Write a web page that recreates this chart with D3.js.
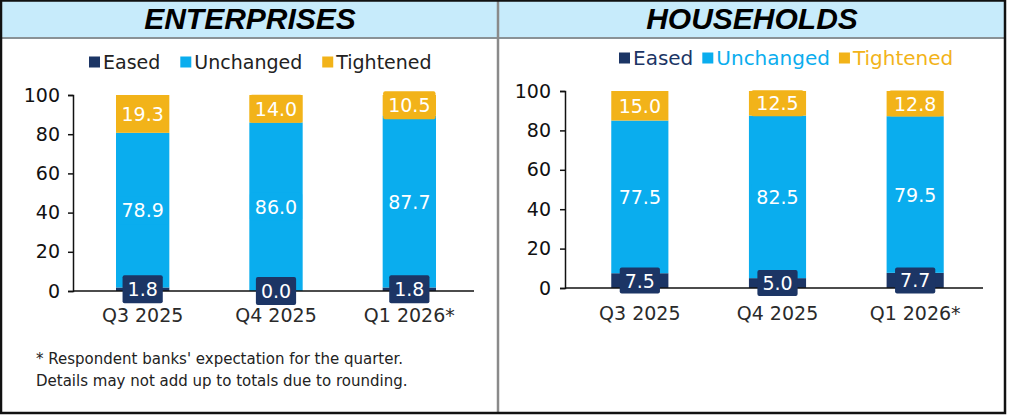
<!DOCTYPE html>
<html>
<head>
<meta charset="utf-8">
<script src="https://cdn.jsdelivr.net/npm/d3@7"></script>
<style>
  body { margin: 0; background: #fff; }
  svg { display: block; }
  text { font-family: "DejaVu Sans", sans-serif; }
</style>
</head>
<body>
<svg width="1009" height="416"></svg>
<script>
// data (percent of respondent banks)
var quarters = ["Q3 2025", "Q4 2025", "Q1 2026*"];
var seriesNames = ["Eased", "Unchanged", "Tightened"];
var entEased = [1.8, 0.0, 1.8];
var entUnchanged = [78.9, 86.0, 87.7];
var entTightened = [19.3, 14.0, 10.5];
var hhEased = [7.5, 5.0, 7.7];
var hhUnchanged = [77.5, 82.5, 79.5];
var hhTightened = [15.0, 12.5, 12.8];
var yTicks = [0, 20, 40, 60, 80, 100];
var footnote = ["* Respondent banks' expectation for the quarter.",
                "Details may not add up to totals due to rounding."];

var colors = { Eased: "#1c3565", Unchanged: "#0aadee", Tightened: "#f2b319" };

var svg = d3.select("svg");

// frame and header band
svg.append("rect").attr("x", 0).attr("y", 0).attr("width", 1005).attr("height", 38)
    .style("fill", "#c7ebfb");
svg.append("line").attr("x1", 0).attr("x2", 1005).attr("y1", 38).attr("y2", 38)
    .style("stroke", "#8a9296").style("stroke-width", 2);
svg.append("line").attr("x1", 498).attr("x2", 498).attr("y1", 0).attr("y2", 413)
    .style("stroke", "#8a8a8a").style("stroke-width", 2.5);
svg.append("rect").attr("x", 1).attr("y", 0.5).attr("width", 1004).attr("height", 412.5)
    .style("fill", "none").style("stroke", "#111").style("stroke-width", 2.5);

function buildRows(eased, unchanged, tightened) {
    return quarters.map(function (q, i) {
        return { quarter: q, Eased: eased[i], Unchanged: unchanged[i], Tightened: tightened[i] };
    });
}

function drawPanel(cfg) {
    var g = svg.append("g");
    var rows = buildRows(cfg.eased, cfg.unchanged, cfg.tightened);

    g.append("text")
        .attr("x", cfg.cx).attr("y", cfg.titleY)
        .attr("text-anchor", "middle")
        .style("font-family", "'Liberation Sans', Arial, sans-serif")
        .style("font-weight", "bold").style("font-style", "italic")
        .style("font-size", "30px").style("fill", "#000")
        .text(cfg.title);

    var x = d3.scaleBand().domain(quarters).range(cfg.xRange)
        .paddingInner(cfg.padInner).paddingOuter(cfg.padInner / 2);
    var y = d3.scaleLinear().domain([0, 100]).range(cfg.yRange);

    var stack = d3.stack().keys(seriesNames)(rows);

    // bars
    g.selectAll("g.layer").data(stack).enter().append("g")
        .attr("class", "layer")
        .style("fill", function (d) { return colors[d.key]; })
        .selectAll("rect").data(function (d) { return d; }).enter().append("rect")
        .attr("x", function (d) { return x(d.data.quarter); })
        .attr("width", x.bandwidth())
        .attr("y", function (d) { return y(d[1]); })
        .attr("height", function (d) { return y(d[0]) - y(d[1]); });

    // y axis
    var yAxis = g.append("g")
        .attr("transform", "translate(" + cfg.axisX + ",0)")
        .call(d3.axisLeft(y).tickValues(yTicks).tickSize(5).tickPadding(cfg.tickPad));
    yAxis.select(".domain").style("stroke", "#111").style("stroke-width", 1.5);
    yAxis.selectAll(".tick line").style("stroke", "#111").style("stroke-width", 1.5);
    yAxis.selectAll(".tick text")
        .style("font-family", "'DejaVu Sans', sans-serif")
        .style("font-size", "19px").style("fill", "#111");

    // x axis line at zero
    g.append("line")
        .attr("x1", cfg.axisX).attr("x2", cfg.xAxisEnd)
        .attr("y1", y(0)).attr("y2", y(0))
        .style("stroke", "#111").style("stroke-width", 1.5);

    // category labels
    g.selectAll("text.cat").data(quarters).enter().append("text")
        .attr("class", "cat")
        .attr("x", function (d) { return x(d) + x.bandwidth() / 2; })
        .attr("y", cfg.catY)
        .attr("text-anchor", "middle")
        .style("font-size", "19px").style("fill", "#2a2a2a")
        .text(function (d) { return d; });

    // value labels with boxes
    stack.forEach(function (layer) {
        layer.forEach(function (d) {
            var cxp = x(d.data.quarter) + x.bandwidth() / 2;
            var cyp = (y(d[0]) + y(d[1])) / 2;
            var lg = g.append("g");
            var box = lg.append("rect");
            var t = lg.append("text")
                .attr("x", cxp).attr("y", cyp)
                .attr("text-anchor", "middle")
                .attr("dominant-baseline", "central")
                .style("font-size", "19px").style("fill", "#fff")
                .text(d.data[layer.key].toFixed(1));
            var w = t.node().getComputedTextLength() + 10;
            var h = cfg.boxH;
            box.attr("x", cxp - w / 2).attr("y", cyp - h / 2)
                .attr("width", w).attr("height", h)
                .attr("rx", 2)
                .style("fill", colors[layer.key]);
        });
    });

    // legend
    var lx = cfg.legendX;
    var leg = g.append("g");
    seriesNames.forEach(function (name) {
        leg.append("rect")
            .attr("x", lx).attr("y", cfg.legendY - 5.5)
            .attr("width", 11).attr("height", 11)
            .style("fill", colors[name]);
        var t = leg.append("text")
            .attr("x", lx + 14).attr("y", cfg.legendY)
            .attr("dominant-baseline", "central")
            .style("font-size", cfg.legendSize)
            .style("fill", cfg.legendColored ? colors[name] : "#222")
            .text(name);
        lx += 14 + t.node().getComputedTextLength() + cfg.legendGap;
    });

    if (cfg.notes) {
        g.selectAll("text.note").data(cfg.notes).enter().append("text")
            .attr("class", "note")
            .attr("x", 36)
            .attr("y", function (d, i) { return 364 + i * 22; })
            .style("font-size", "15px").style("fill", "#222")
            .text(function (d) { return d; });
    }
}

drawPanel({
    title: "ENTERPRISES", cx: 250, titleY: 29,
    eased: entEased, unchanged: entUnchanged, tightened: entTightened,
    xRange: [76, 476], padInner: 0.6, yRange: [291, 95],
    axisX: 73, xAxisEnd: 474, tickPad: 8, catY: 322, boxH: 28,
    legendX: 89, legendY: 62, legendSize: "19px", legendGap: 20, legendColored: false,
    notes: footnote
});

drawPanel({
    title: "HOUSEHOLDS", cx: 752, titleY: 29,
    eased: hhEased, unchanged: hhUnchanged, tightened: hhTightened,
    xRange: [571, 984], padInner: 0.585, yRange: [288, 91],
    axisX: 565, xAxisEnd: 983, tickPad: 9, catY: 320, boxH: 26,
    legendX: 619, legendY: 58, legendSize: "20px", legendGap: 9, legendColored: true,
    notes: null
});
</script>
</body>
</html>
